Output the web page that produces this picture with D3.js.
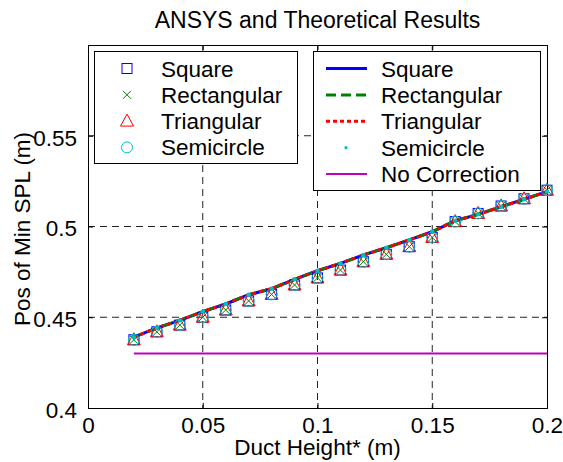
<!DOCTYPE html>
<html>
<head>
<meta charset="utf-8">
<script src="https://cdn.jsdelivr.net/npm/d3@7"></script>
<style>
  body { margin: 0; background: #fff; }
  text { font-family: "Liberation Sans", Arial, sans-serif; fill: #000; }
</style>
</head>
<body>
<div id="chart"></div>
<script>
// duct height (m)
var ductHeight = [0.02, 0.03, 0.04, 0.05, 0.06, 0.07, 0.08, 0.09, 0.10, 0.11,
                  0.12, 0.13, 0.14, 0.15, 0.16, 0.17, 0.18, 0.19, 0.20];
// ANSYS results (the four shapes sit on top of each other)
var ansysPos = [0.4376, 0.4420, 0.4457, 0.4500, 0.4540, 0.4590, 0.4626, 0.4678, 0.4717, 0.4760,
                0.4806, 0.4847, 0.4889, 0.4940, 0.5027, 0.5072, 0.5113, 0.5153, 0.5200];
// theoretical results
var theoryPos = [0.4390, 0.4441, 0.4483, 0.4531, 0.4573, 0.4624, 0.4657, 0.4709, 0.4756, 0.4797,
                 0.4843, 0.4883, 0.4926, 0.4971, 0.5032, 0.5067, 0.5109, 0.5150, 0.5192];
var noCorrPos = [0.43, 0.43, 0.43, 0.43, 0.43, 0.43, 0.43, 0.43, 0.43, 0.43,
                 0.43, 0.43, 0.43, 0.43, 0.43, 0.43, 0.43, 0.43, 0.43];

var xTicks = [0, 0.05, 0.1, 0.15, 0.2];
var yTicks = [0.4, 0.45, 0.5, 0.55];

var ansysNames = ['Square', 'Rectangular', 'Triangular', 'Semicircle'];
var theoryNames = ['Square', 'Rectangular', 'Triangular', 'Semicircle', 'No Correction'];

var svgWidth = 563;
var svgHeight = 462;
var margin = { top: 45, left: 88, right: 16, bottom: 54 };
var width = svgWidth - margin.left - margin.right;
var height = svgHeight - margin.top - margin.bottom;
var fs = 22.5;

var svg = d3.select('#chart')
    .append('svg')
    .attr('width', svgWidth)
    .attr('height', svgHeight);

var chartGroup = svg.append('g')
    .attr('transform', `translate(${margin.left}, ${margin.top})`);

var xScale = d3.scaleLinear().domain([0, 0.2]).range([0, width]);
var yScale = d3.scaleLinear().domain([0.4, 0.6]).range([height, 0]);

// grid
chartGroup.selectAll('line.vgrid')
    .data(xTicks.slice(1, -1))
    .enter().append('line')
    .attr('x1', d => xScale(d)).attr('x2', d => xScale(d))
    .attr('y1', 0).attr('y2', height)
    .attr('stroke', '#222').attr('stroke-dasharray', '7,5');
chartGroup.selectAll('line.hgrid')
    .data(yTicks.slice(1))
    .enter().append('line')
    .attr('y1', d => yScale(d)).attr('y2', d => yScale(d))
    .attr('x1', 0).attr('x2', width)
    .attr('stroke', '#222').attr('stroke-dasharray', '7,5');

// axes, ticks pointing inward like matlab
var fmt = d => String(+d.toFixed(2));
chartGroup.append('g')
    .attr('transform', `translate(0,${height})`)
    .call(d3.axisBottom(xScale).tickValues(xTicks).tickSize(-5).tickPadding(9).tickFormat(fmt))
    .call(g => g.selectAll('text').attr('font-size', fs).attr('dy', '0.71em'));
chartGroup.append('g')
    .call(d3.axisLeft(yScale).tickValues(yTicks).tickSize(-5).tickPadding(11).tickFormat(fmt))
    .call(g => g.selectAll('text').attr('font-size', fs).attr('dy', '0.42em'));
chartGroup.append('g')
    .call(d3.axisTop(xScale).tickValues(xTicks).tickSize(-5).tickFormat(''));
chartGroup.append('g')
    .attr('transform', `translate(${width},0)`)
    .call(d3.axisRight(yScale).tickValues(yTicks).tickSize(-5).tickFormat(''));
chartGroup.selectAll('.domain').attr('stroke', '#000');
chartGroup.selectAll('.tick line').attr('stroke', '#000');
chartGroup.selectAll('.tick text').attr('font-family', '"Liberation Sans", Arial, sans-serif');

var pts = (ys) => ductHeight.map((x, i) => [x, ys[i]]);
var line = d3.line().x(d => xScale(d[0])).y(d => yScale(d[1]));

// theoretical lines
var theoryStyles = [
    { color: '#0000ff', width: 3, dash: null },
    { color: '#008000', width: 3, dash: '10,5' },
    { color: '#ff0000', width: 3, dash: '4,3' }
];
theoryStyles.forEach(s => {
    chartGroup.append('path')
        .attr('d', line(pts(theoryPos)))
        .attr('fill', 'none')
        .attr('stroke', s.color)
        .attr('stroke-width', s.width)
        .attr('stroke-dasharray', s.dash);
});
chartGroup.append('path')
    .attr('d', line(pts(noCorrPos)))
    .attr('fill', 'none')
    .attr('stroke', '#bf00bf')
    .attr('stroke-width', 2);

// ANSYS markers
function drawMarker(g, kind, x, y) {
    if (kind === 'Square') {
        g.append('rect').attr('x', x - 5).attr('y', y - 5).attr('width', 10).attr('height', 10)
            .attr('fill', 'none').attr('stroke', '#0000ff');
    } else if (kind === 'Rectangular') {
        g.append('path').attr('d', `M${x-4},${y-4}L${x+4},${y+4}M${x-4},${y+4}L${x+4},${y-4}`)
            .attr('stroke', '#008000');
    } else if (kind === 'Triangular') {
        g.append('path').attr('d', `M${x},${y-7}L${x+6.5},${y+5}L${x-6.5},${y+5}Z`)
            .attr('fill', 'none').attr('stroke', '#ff0000');
    } else {
        g.append('circle').attr('cx', x).attr('cy', y).attr('r', 5.5)
            .attr('fill', 'none').attr('stroke', '#00bfbf');
    }
}
ansysNames.forEach(name => {
    pts(ansysPos).forEach(d => drawMarker(chartGroup, name, xScale(d[0]), yScale(d[1])));
});

// semicircle theory: dots only
chartGroup.selectAll('circle.semidot')
    .data(pts(theoryPos))
    .enter().append('circle')
    .attr('class', 'semidot')
    .attr('cx', d => xScale(d[0]))
    .attr('cy', d => yScale(d[1]))
    .attr('r', 2.2)
    .attr('fill', '#00bfbf');

// legends
var leg1 = svg.append('g');
leg1.append('rect').attr('x', 94.5).attr('y', 51.5).attr('width', 203).attr('height', 112)
    .attr('fill', '#fff').attr('stroke', '#000');
ansysNames.forEach((name, i) => {
    var y = 68.5 + i * 26.3;
    drawMarker(leg1, name, 127, y);
    leg1.append('text').attr('x', 161).attr('y', y + 8).attr('font-size', fs).text(name);
});

var leg2 = svg.append('g');
leg2.append('rect').attr('x', 313.5).attr('y', 51.5).attr('width', 227).attr('height', 139)
    .attr('fill', '#fff').attr('stroke', '#000');
theoryNames.forEach((name, i) => {
    var y = 68.5 + i * 26.4;
    if (i < 3) {
        var s = theoryStyles[i];
        leg2.append('line').attr('x1', 326).attr('x2', 367).attr('y1', y).attr('y2', y)
            .attr('stroke', s.color).attr('stroke-width', s.width).attr('stroke-dasharray', s.dash);
    } else if (i === 3) {
        leg2.append('circle').attr('cx', 346).attr('cy', y).attr('r', 1.6).attr('fill', '#00bfbf');
    } else {
        leg2.append('line').attr('x1', 326).attr('x2', 367).attr('y1', y).attr('y2', y)
            .attr('stroke', '#bf00bf').attr('stroke-width', 2);
    }
    leg2.append('text').attr('x', 381).attr('y', y + 8).attr('font-size', fs).text(name);
});

// title and axis labels
svg.append('text')
    .attr('x', margin.left + width / 2).attr('y', 28)
    .attr('text-anchor', 'middle').attr('font-size', 23)
    .text('ANSYS and Theoretical Results');
svg.append('text')
    .attr('x', margin.left + width / 2).attr('y', 455)
    .attr('text-anchor', 'middle').attr('font-size', fs)
    .text('Duct Height* (m)');
svg.append('text')
    .attr('transform', 'rotate(-90)')
    .attr('x', -229).attr('y', 30)
    .attr('text-anchor', 'middle').attr('font-size', fs)
    .text('Pos of Min SPL (m)');
</script>
</body>
</html>
